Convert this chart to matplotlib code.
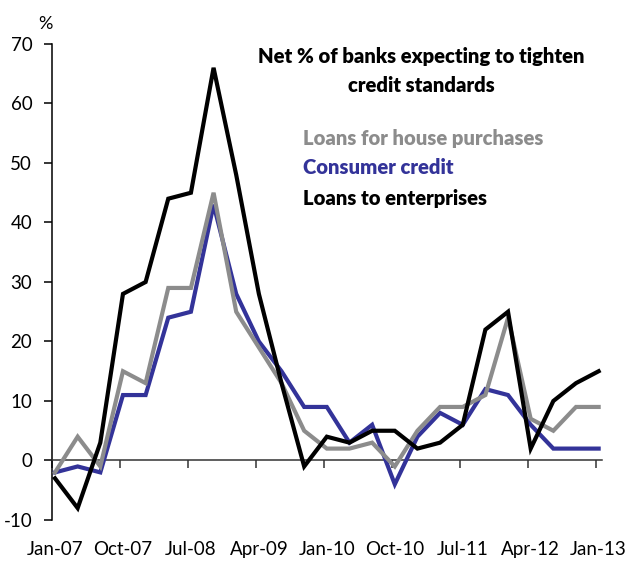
import matplotlib
matplotlib.use('Agg')
import matplotlib.pyplot as plt
from matplotlib.transforms import blended_transform_factory

plt.rcParams['axes.unicode_minus'] = False

# quarterly survey, Jan-07 .. Jan-13
quarters = ['Jan-07', 'Apr-07', 'Jul-07', 'Oct-07', 'Jan-08', 'Apr-08', 'Jul-08', 'Oct-08',
            'Jan-09', 'Apr-09', 'Jul-09', 'Oct-09', 'Jan-10', 'Apr-10', 'Jul-10', 'Oct-10',
            'Jan-11', 'Apr-11', 'Jul-11', 'Oct-11', 'Jan-12', 'Apr-12', 'Jul-12', 'Oct-12',
            'Jan-13']
house = [-2, 4, -1, 15, 13, 29, 29, 45, 25, 19, 13, 5, 2, 2, 3, -1, 5, 9, 9, 11, 24, 7, 5, 9, 9]
consumer = [-2, -1, -2, 11, 11, 24, 25, 43, 28, 20, 15, 9, 9, 3, 6, -4, 4, 8, 6, 12, 11, 6, 2, 2, 2]
enterprises = [-3, -8, 3, 28, 30, 44, 45, 66, 48, 28, 13, -1, 4, 3, 5, 5, 2, 3, 6, 22, 25, 2, 10, 13, 15]

C = {'gray': '#8c8c8c', 'blue': '#333399', 'black': '#000000'}
FONT = 'Lato'

fig = plt.figure(figsize=(6.26, 5.67), dpi=100)
ax = fig.add_axes([0.0826, 0.0829, 0.8784, 0.8395])

x = list(range(len(quarters)))
ax.plot(x, consumer, color=C['blue'], lw=3.0, solid_joinstyle='miter', zorder=3)
ax.plot(x, house, color=C['gray'], lw=3.0, solid_joinstyle='miter', zorder=4)
ax.plot(x, enterprises, color=C['black'], lw=3.0, solid_joinstyle='miter', zorder=5)

ax.set_xlim(-0.146, 24.13)
ax.set_ylim(-10, 70)

for s in ['top', 'right']:
    ax.spines[s].set_visible(False)
ax.spines['left'].set_linewidth(1.1)
ax.spines['bottom'].set_position(('data', 0))
ax.spines['bottom'].set_linewidth(1.1)
ax.spines['bottom'].set_color('#333333')

ax.set_yticks(range(-10, 71, 10))
ax.tick_params(axis='y', direction='out', length=6, width=1.1, pad=8, labelsize=13.5)
for lab in ax.get_yticklabels():
    lab.set_family(FONT)

lab_idx = list(range(0, len(quarters), 3))
ax.set_xticks([i - 0.13 for i in lab_idx])
ax.set_xticklabels([])
ax.tick_params(axis='x', direction='out', length=6, width=1.1, color='#333333')

tr = blended_transform_factory(ax.transData, ax.transAxes)
for i in lab_idx:
    ax.text(i, -0.063, quarters[i], transform=tr, ha='center', va='center',
            fontsize=13.5, family=FONT)

fig.text(45 / 626, 1 - 24 / 567, '%', ha='center', va='center', fontsize=13, family=FONT)

# title and coloured series names
fig.text(421 / 626, 1 - 56 / 567, 'Net % of banks expecting to tighten', ha='center', va='center',
         fontsize=14.6, fontweight='heavy', family=FONT)
fig.text(421 / 626, 1 - 86 / 567, 'credit standards', ha='center', va='center',
         fontsize=14.6, fontweight='heavy', family=FONT)
names = [('Loans for house purchases', C['gray'], 138),
         ('Consumer credit', C['blue'], 168),
         ('Loans to enterprises', C['black'], 198)]
for name, col, yp in names:
    fig.text(303 / 626, 1 - yp / 567, name, ha='left', va='center', fontsize=14.6,
             fontweight='heavy', color=col, family=FONT)

fig.savefig('out.png', dpi=100, facecolor='white')
